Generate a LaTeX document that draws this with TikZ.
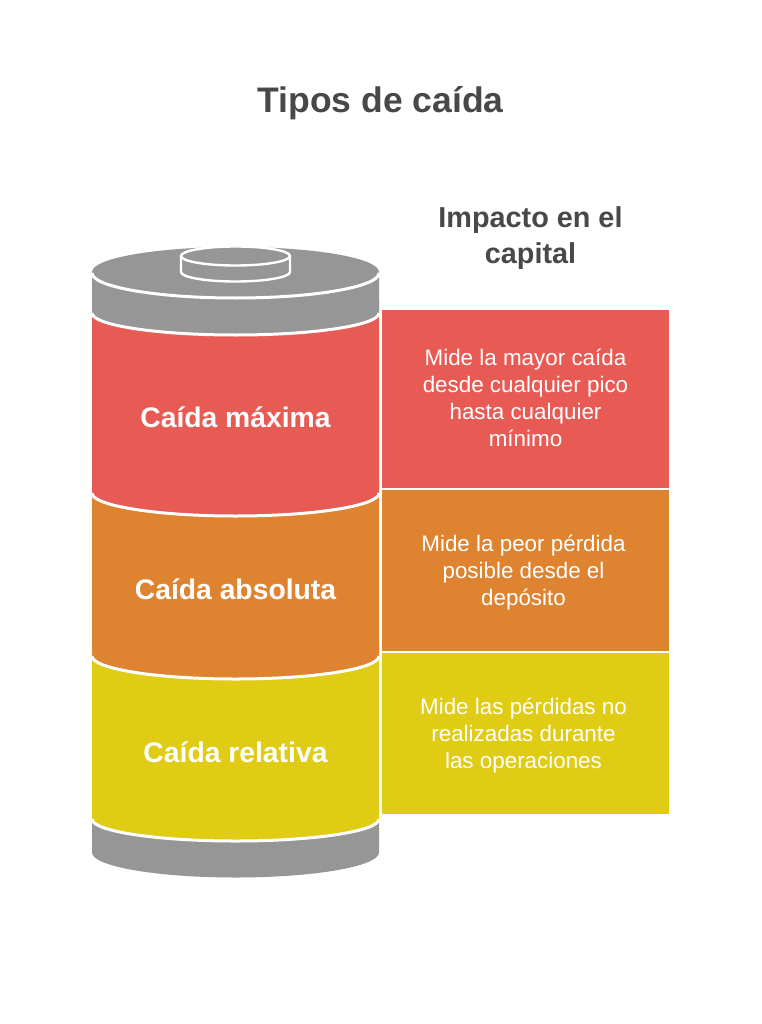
\documentclass[tikz,border=0pt]{standalone}
\usepackage{fontspec}
\setmainfont{Liberation Sans}
\definecolor{cgray}{HTML}{969696}
\definecolor{cred}{HTML}{E85B54}
\definecolor{corange}{HTML}{DE8431}
\definecolor{cyellow}{HTML}{E0CB15}
\definecolor{ctext}{HTML}{484848}
\newcommand{\seg}[4]{%
  \fill[#1] (92,#2) -- (92,#3) arc[start angle=180,end angle=360,x radius=143.5pt,y radius=#4pt] -- (379,#2) -- cycle;
  \draw[edge] (92,#3) arc[start angle=180,end angle=360,x radius=143.5pt,y radius=#4pt];}
\tikzset{
  x=1pt,y=-1pt,
  edge/.style={white,line width=3pt},
  thinedge/.style={white,line width=2.4pt},
  panel/.style={minimum width=287pt,anchor=north west,inner sep=0pt,outer sep=0pt},
  heading/.style={text=ctext,align=center,inner sep=0pt},
  segtitle/.style={text=white,font=\bfseries\fontsize{28.3}{34}\selectfont,inner sep=0pt},
  body/.style={text=white,font=\fontsize{22.4}{27}\selectfont,align=center,inner sep=0pt},
}
\begin{document}
\begin{tikzpicture}
\useasboundingbox (0,0) rectangle (761,1024);
\fill[white] (0,0) rectangle (761,1024);
\node[heading,font=\bfseries\fontsize{35.5}{42}\selectfont] (title) at (380.5,103) {Tipos de caída};
\node[heading,font=\bfseries\fontsize{28.8}{36}\selectfont] (impact) at (530.5,238) {Impacto en el\\capital};
% bottom cap
\fill[cgray] (92,820) -- (92,852.5) arc[start angle=180,end angle=360,x radius=143.5pt,y radius=25pt] -- (379,820) -- cycle;
\seg{cyellow}{640}{819}{22}
\seg{corange}{480}{656}{23}
\seg{cred}{300}{493}{23}
% top cap
\fill[cgray] (92,272) arc[start angle=180,end angle=0,x radius=143.5pt,y radius=25pt] -- (379,312) arc[start angle=360,end angle=180,x radius=143.5pt,y radius=23pt] -- cycle;
\draw[edge] (92,313) arc[start angle=180,end angle=360,x radius=143.5pt,y radius=22pt];
\draw[edge] (92,273) arc[start angle=180,end angle=360,x radius=143.5pt,y radius=25pt];
% terminal
\draw[thinedge,fill=cgray] (181,256) -- (181,272) arc[start angle=180,end angle=360,x radius=54.5pt,y radius=9.5pt] -- (290,256);
\draw[thinedge,fill=cgray] (235.5,256) ellipse[x radius=54.5pt,y radius=9.5pt];
% panels
\node[panel,fill=cred,minimum height=178pt] (p1) at (382,310) {};
\node[panel,fill=corange,minimum height=161pt] (p2) at (382,490) {};
\node[panel,fill=cyellow,minimum height=161pt] (p3) at (382,653) {};
\node[segtitle] (s1) at (235.5,417.5) {Caída máxima};
\node[segtitle] (s2) at (235.5,589.5) {Caída absoluta};
\node[segtitle] (s3) at (235.5,752.5) {Caída relativa};
\node[body] (b1) at (525.5,397.5) {Mide la mayor caída\\desde cualquier pico\\hasta cualquier\\mínimo};
\node[body] (b2) at (523.5,572.5) {Mide la peor pérdida\\posible desde el\\depósito};
\node[body] (b3) at (523.5,735.5) {Mide las pérdidas no\\realizadas durante\\las operaciones};
\end{tikzpicture}
\end{document}
